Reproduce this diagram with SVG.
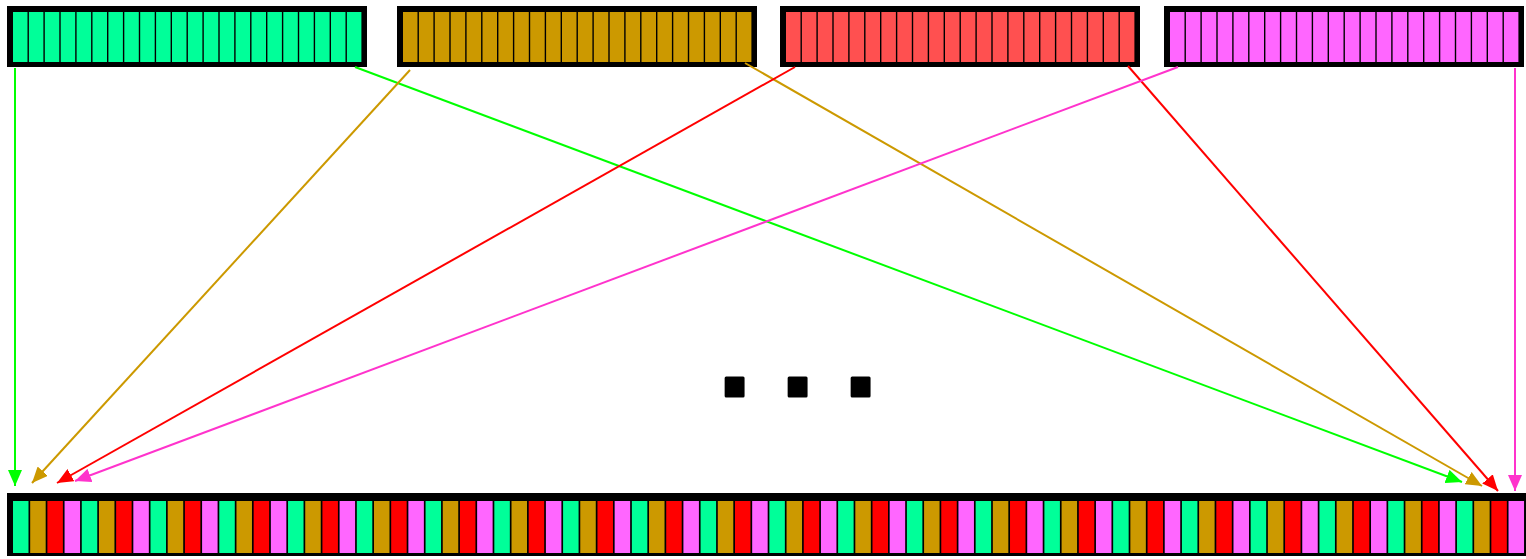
<svg xmlns="http://www.w3.org/2000/svg" xmlns:xlink="http://www.w3.org/1999/xlink" width="1526" height="559" viewBox="0 0 1526 559">
  <style>
    .frame { fill: #000; }
    .edge { fill: none; stroke-width: 2; }
    .dots { font-family: "Liberation Sans", Arial, sans-serif; font-weight: bold; font-size: 120px; fill: #000; stroke: #000; stroke-width: 3; stroke-linejoin: round; }
  </style>
  <defs>
    <g id="row22">
      <rect x="0" y="0" width="14.5" height="50"/>
      <rect x="15.9" y="0" width="14.5" height="50"/>
      <rect x="31.8" y="0" width="14.5" height="50"/>
      <rect x="47.7" y="0" width="14.5" height="50"/>
      <rect x="63.6" y="0" width="14.5" height="50"/>
      <rect x="79.5" y="0" width="14.5" height="50"/>
      <rect x="95.4" y="0" width="14.5" height="50"/>
      <rect x="111.3" y="0" width="14.5" height="50"/>
      <rect x="127.2" y="0" width="14.5" height="50"/>
      <rect x="143.1" y="0" width="14.5" height="50"/>
      <rect x="159" y="0" width="14.5" height="50"/>
      <rect x="174.9" y="0" width="14.5" height="50"/>
      <rect x="190.8" y="0" width="14.5" height="50"/>
      <rect x="206.7" y="0" width="14.5" height="50"/>
      <rect x="222.6" y="0" width="14.5" height="50"/>
      <rect x="238.5" y="0" width="14.5" height="50"/>
      <rect x="254.4" y="0" width="14.5" height="50"/>
      <rect x="270.3" y="0" width="14.5" height="50"/>
      <rect x="286.2" y="0" width="14.5" height="50"/>
      <rect x="302.1" y="0" width="14.5" height="50"/>
      <rect x="318" y="0" width="14.5" height="50"/>
      <rect x="333.9" y="0" width="14.5" height="50"/>
    </g>
    <g id="quad">
      <rect x="0" y="0" width="15.5" height="52" fill="#00ff99"/>
      <rect x="17.19" y="0" width="15.5" height="52" fill="#cc9900"/>
      <rect x="34.38" y="0" width="15.5" height="52" fill="#ff0000"/>
      <rect x="51.57" y="0" width="15.5" height="52" fill="#ff66ff"/>
    </g>
    <marker id="ah-green" markerUnits="userSpaceOnUse" markerWidth="16" markerHeight="14" refX="16" refY="7" orient="auto"><path d="M0,0 L16,7 L0,14 z" fill="#00ff00"/></marker>
    <marker id="ah-gold" markerUnits="userSpaceOnUse" markerWidth="16" markerHeight="14" refX="16" refY="7" orient="auto"><path d="M0,0 L16,7 L0,14 z" fill="#cc9900"/></marker>
    <marker id="ah-red" markerUnits="userSpaceOnUse" markerWidth="16" markerHeight="14" refX="16" refY="7" orient="auto"><path d="M0,0 L16,7 L0,14 z" fill="#ff0000"/></marker>
    <marker id="ah-pink" markerUnits="userSpaceOnUse" markerWidth="16" markerHeight="14" refX="16" refY="7" orient="auto"><path d="M0,0 L16,7 L0,14 z" fill="#ff33cc"/></marker>
  </defs>
  <rect width="1526" height="559" fill="#ffffff"/>

  <g id="src-green">
    <rect class="frame" x="7" y="6" width="360" height="61"/>
    <use xlink:href="#row22" href="#row22" x="13" y="12" fill="#00ff99"/>
  </g>
  <g id="src-gold">
    <rect class="frame" x="397" y="6" width="360" height="61"/>
    <use xlink:href="#row22" href="#row22" x="403" y="12" fill="#cc9900"/>
  </g>
  <g id="src-red">
    <rect class="frame" x="780" y="6" width="360" height="61"/>
    <use xlink:href="#row22" href="#row22" x="786" y="12" fill="#ff5050"/>
  </g>
  <g id="src-pink">
    <rect class="frame" x="1164" y="6" width="360" height="61"/>
    <use xlink:href="#row22" href="#row22" x="1170" y="12" fill="#ff66ff"/>
  </g>

  <g id="merged">
    <rect class="frame" x="7" y="493" width="1519" height="63"/>
    <use xlink:href="#quad" href="#quad" x="13" y="501"/>
    <use xlink:href="#quad" href="#quad" x="81.76" y="501"/>
    <use xlink:href="#quad" href="#quad" x="150.52" y="501"/>
    <use xlink:href="#quad" href="#quad" x="219.28" y="501"/>
    <use xlink:href="#quad" href="#quad" x="288.04" y="501"/>
    <use xlink:href="#quad" href="#quad" x="356.8" y="501"/>
    <use xlink:href="#quad" href="#quad" x="425.56" y="501"/>
    <use xlink:href="#quad" href="#quad" x="494.32" y="501"/>
    <use xlink:href="#quad" href="#quad" x="563.08" y="501"/>
    <use xlink:href="#quad" href="#quad" x="631.84" y="501"/>
    <use xlink:href="#quad" href="#quad" x="700.6" y="501"/>
    <use xlink:href="#quad" href="#quad" x="769.36" y="501"/>
    <use xlink:href="#quad" href="#quad" x="838.12" y="501"/>
    <use xlink:href="#quad" href="#quad" x="906.88" y="501"/>
    <use xlink:href="#quad" href="#quad" x="975.64" y="501"/>
    <use xlink:href="#quad" href="#quad" x="1044.4" y="501"/>
    <use xlink:href="#quad" href="#quad" x="1113.16" y="501"/>
    <use xlink:href="#quad" href="#quad" x="1181.92" y="501"/>
    <use xlink:href="#quad" href="#quad" x="1250.68" y="501"/>
    <use xlink:href="#quad" href="#quad" x="1319.44" y="501"/>
    <use xlink:href="#quad" href="#quad" x="1388.2" y="501"/>
    <use xlink:href="#quad" href="#quad" x="1456.96" y="501"/>
  </g>

  <g id="connectors">
    <path class="edge" stroke="#00ff00" d="M15,68 L15,486" marker-end="url(#ah-green)"/>
    <path class="edge" stroke="#00ff00" d="M355,67 L1462,482" marker-end="url(#ah-green)"/>
    <path class="edge" stroke="#cc9900" d="M410,70 L32,483" marker-end="url(#ah-gold)"/>
    <path class="edge" stroke="#cc9900" d="M745,63 L1482,486" marker-end="url(#ah-gold)"/>
    <path class="edge" stroke="#ff0000" d="M795,67 L57,483" marker-end="url(#ah-red)"/>
    <path class="edge" stroke="#ff0000" d="M1128,66 L1498,491" marker-end="url(#ah-red)"/>
    <path class="edge" stroke="#ff33cc" d="M1178,67 L75,481" marker-end="url(#ah-pink)"/>
    <path class="edge" stroke="#ff33cc" d="M1515,68 L1515,491" marker-end="url(#ah-pink)"/>
  </g>

  <text class="dots" x="718" y="395.5" letter-spacing="29.6">...</text>
</svg>
